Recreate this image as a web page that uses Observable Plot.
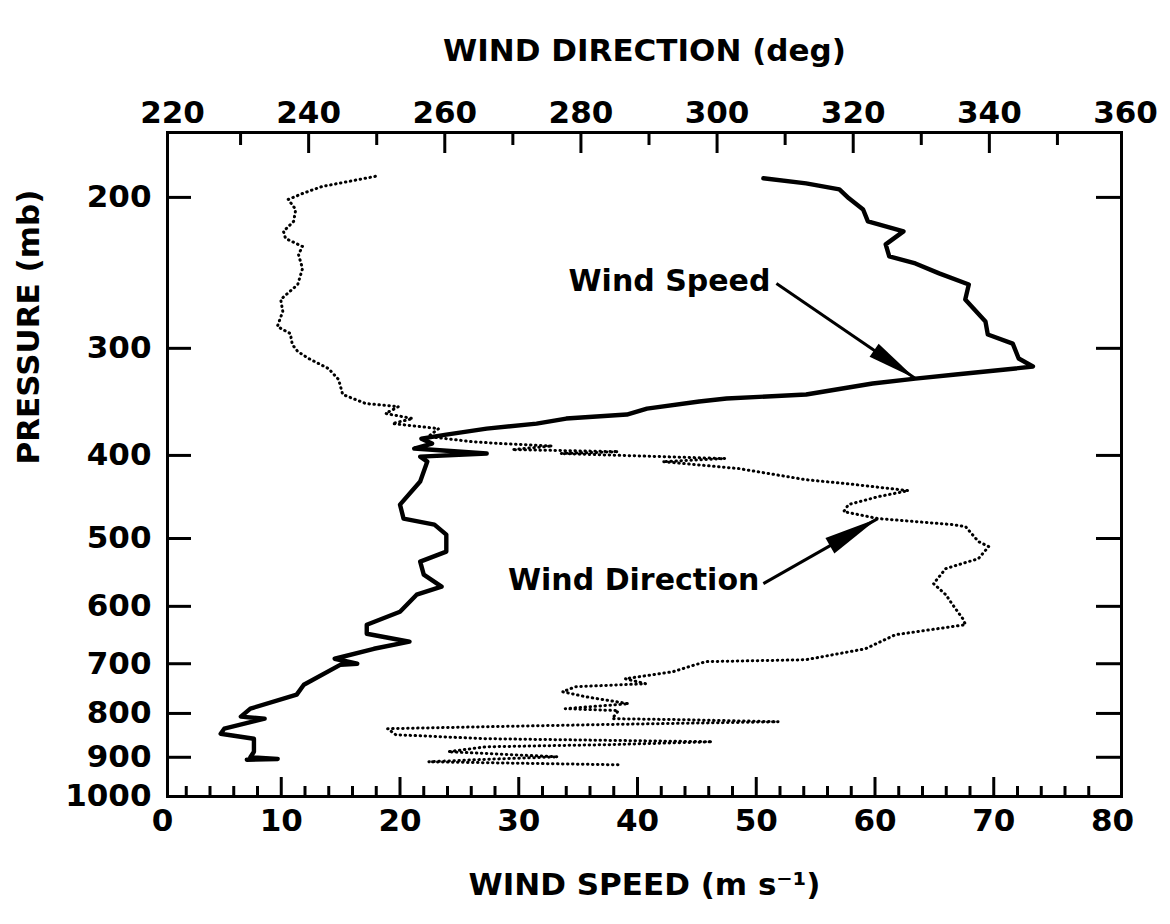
<!DOCTYPE html>
<html><head><meta charset="utf-8">
<script src="https://cdn.jsdelivr.net/npm/d3@7"></script>
<script src="https://cdn.jsdelivr.net/npm/@observablehq/plot@0.6"></script>
<style>
body{margin:0;background:#fff;}
#wrap{position:relative;width:1170px;height:924px;background:#fff;}
#wrap svg{position:absolute;left:0;top:0;}
</style></head><body><div id="wrap"></div>
<script>
// ---- data ----
const speedPressure = [190.0,192.6,195.7,200.5,206.6,213.3,219.1,226.9,234.4,238.8,245.3,252.7,263.1,279.1,289.1,296.2,308.3,315.0,317.6,321.9,325.4,329.7,339.6,343.3,346.1,352.7,358.4,362.3,367.2,372.2,378.2,382.4,387.5,392.7,398.0,401.3,406.7,429.1,456.5,474.0,481.7,494.8,517.9,532.1,551.0,569.1,581.5,608.7,630.3,645.8,659.8,672.4,690.7,700.0,701.8,740.6,760.6,789.8,807.0,811.4,833.5,844.8,856.2,886.7,900.0,904.0,906.0];
const speedValues   = [50.6,54.2,57.0,57.8,59.0,59.4,62.4,60.9,61.2,63.4,65.4,67.9,67.6,69.3,69.5,71.6,72.1,73.3,71.0,66.8,63.4,59.8,54.2,47.5,45.2,40.8,39.1,34.0,31.5,27.3,23.9,21.8,22.7,21.2,27.3,21.7,22.3,21.7,20.0,20.3,22.9,23.9,23.9,21.7,22.0,23.5,21.4,20.0,17.2,17.2,20.8,17.8,14.5,16.4,15.0,11.9,11.3,7.4,6.6,8.6,5.2,4.9,7.7,7.7,7.4,9.7,7.1];

const dirPressure = [189.0,192.6,194.2,197.9,201.1,206.6,213.3,219.1,223.3,228.2,233.1,242.1,252.7,263.1,271.7,282.9,288.3,296.9,302.6,308.3,316.7,326.2,339.6,348.0,350.8,357.4,362.3,367.2,372.2,380.2,385.4,387.5,390.0,393.8,396.0,398.0,403.4,406.7,414.4,426.9,432.6,439.7,446.8,456.5,465.2,474.0,481.7,484.3,504.2,511.0,527.8,542.1,564.5,581.5,597.3,620.2,630.3,647.5,672.4,692.6,696.1,715.2,728.8,738.6,744.6,754.7,764.9,779.4,789.8,794.0,811.4,813.6,818.0,824.6,829.1,833.5,847.1,856.2,863.3,870.0,875.0,886.7,898.9,905.0,911.0,918.4];
const dirValues   = [249.8,244.4,242.0,239.1,237.0,238.1,237.8,236.3,236.6,239.1,238.5,239.1,238.4,235.9,236.2,235.4,237.3,237.6,238.4,240.0,242.9,244.4,245.0,248.4,253.2,251.3,255.3,252.3,259.1,257.6,263.8,268.2,275.8,269.9,285.5,277.0,301.2,292.0,303.2,313.0,320.3,328.1,323.7,319.3,318.6,323.7,334.6,336.5,338.4,339.9,338.4,333.6,331.8,333.6,334.6,336.1,336.5,326.2,321.8,313.0,298.3,293.5,286.5,289.5,279.2,277.3,280.7,287.0,277.7,285.5,284.6,294.9,309.0,282.1,266.0,251.6,252.8,266.0,299.3,284.1,266.0,260.5,276.6,266.0,257.6,285.5];

const pressureTicks = [200,300,400,500,600,700,800,900];
const pressureLabels = [200,300,400,500,600,700,800,900,1000];
const speedLabels = [0,10,20,30,40,50,60,70,80];
const speedMinor = [2,4,6,8,12,14,16,18,22,24,26,28,32,34,36,38,42,44,46,48,52,54,56,58,62,64,66,68,72,74,76,78];
const speedMajor = [10,20,30,40,50,60,70];
const dirLabels = [220,240,260,280,300,320,340,360];
const dirMajor = [240,260,280,300,320,340];
const dirMinor = [230,250,270,290,310,330,350];

const speedArrow = [{s1:51.7, p1:252.0, s2:63.4, p2:325.3, label:"Wind Speed"}];
const dirArrow   = [{d1:306.8, p1:564.4, d2:323.6, p2:474.0, label:"Wind Direction"}];

// ---- layout ----
const W = 1170, H = 924, mt = 132, mb = 128, ml = 167, mr = 49;
const frameH = H - mt - mb, frameW = W - ml - mr;
const FONT = "DejaVu Sans";
const speedX = {domain:[0,80], range:[162,1112]};
const dirX = {domain:[220,360], range:[172,1125]};
const yOpt = {type:"log", domain:[1000,168], range:[H - mb, mt]};

const speedData = speedPressure.map((p,i)=>({p, s:speedValues[i]}));
const dirData = dirPressure.map((p,i)=>({p, d:dirValues[i]}));

function headSymbol(angle, len, halfW) {
  const c = Math.cos(angle), s = Math.sin(angle);
  return {draw(ctx) {
    const bx = -len*c, by = -len*s;
    ctx.moveTo(0,0);
    ctx.lineTo(bx + halfW*s, by - halfW*c);
    ctx.lineTo(bx - halfW*s, by + halfW*c);
    ctx.closePath();
  }};
}
function angleOf(xs, a1, p1, a2, p2) {
  const x = d3.scaleLinear(xs.domain, xs.range);
  const y = d3.scaleLog(yOpt.domain, yOpt.range);
  return Math.atan2(y(p2)-y(p1), x(a2)-x(a1));
}
const speedAng = angleOf(speedX, speedArrow[0].s1, speedArrow[0].p1, speedArrow[0].s2, speedArrow[0].p2);
const dirAng = angleOf(dirX, dirArrow[0].d1, dirArrow[0].p1, dirArrow[0].d2, dirArrow[0].p2);

const base = {width:W, height:H, marginTop:mt, marginBottom:mb, marginLeft:ml, marginRight:mr,
  y:{...yOpt, axis:null}, style:{fontFamily:FONT, background:"transparent", overflow:"visible"}};
const tickText = {fontSize:31, fontWeight:"bold", fill:"black"};

const speedPlot = Plot.plot({
  ...base,
  x:{...speedX, axis:null},
  marks:[
    Plot.frame({stroke:"black", strokeWidth:3}),
    Plot.ruleX(speedMinor, {x:d=>d, insetTop:frameH-10, stroke:"black", strokeWidth:3}),
    Plot.ruleX(speedMajor, {x:d=>d, insetTop:frameH-19, stroke:"black", strokeWidth:3}),
    Plot.ruleY(pressureTicks, {y:d=>d, insetRight:frameW-24, stroke:"black", strokeWidth:3}),
    Plot.ruleY(pressureTicks, {y:d=>d, insetLeft:frameW-25, stroke:"black", strokeWidth:3}),
    Plot.text(speedLabels, {x:d=>d, text:d=>String(d), frameAnchor:"bottom", dy:34, ...tickText}),
    Plot.text(pressureLabels, {y:d=>d, text:d=>String(d), frameAnchor:"left", textAnchor:"end", dx:-16, ...tickText}),
    Plot.text(["WIND SPEED (m s\u207B\u00B9)"], {frameAnchor:"bottom", dy:98, fontSize:31, fontWeight:"bold", fill:"black"}),
    Plot.text(["PRESSURE (mb)"], {frameAnchor:"left", dx:-138, rotate:-90, fontSize:31, fontWeight:"bold", fill:"black"}),
    Plot.line(speedData, {x:"s", y:"p", stroke:"black", strokeWidth:4.4, strokeLinejoin:"round", strokeLinecap:"round"}),
    Plot.link(speedArrow, {x1:"s1", y1:"p1", x2:"s2", y2:"p2", stroke:"black", strokeWidth:3}),
    Plot.dot(speedArrow, {x:"s2", y:"p2", symbol:headSymbol(speedAng, 50, 8), fill:"black", stroke:"none"}),
    Plot.text(speedArrow, {x:"s1", y:"p1", text:"label", textAnchor:"end", dx:-6, dy:-2, fontSize:30, fontWeight:"bold", fill:"black"})
  ]
});

const dirPlot = Plot.plot({
  ...base,
  x:{...dirX, axis:null},
  marks:[
    Plot.ruleX(dirMinor, {x:d=>d, insetBottom:frameH-13, stroke:"black", strokeWidth:3}),
    Plot.ruleX(dirMajor, {x:d=>d, insetBottom:frameH-21, stroke:"black", strokeWidth:3}),
    Plot.text(dirLabels, {x:d=>d, text:d=>String(d), frameAnchor:"top", dy:-32, ...tickText}),
    Plot.text(["WIND DIRECTION (deg)"], {frameAnchor:"top", dy:-94, fontSize:31, fontWeight:"bold", fill:"black"}),
    Plot.line(dirData, {x:"d", y:"p", stroke:"black", strokeWidth:3, strokeDasharray:"0.5,4.5", strokeLinecap:"round"}),
    Plot.link(dirArrow, {x1:"d1", y1:"p1", x2:"d2", y2:"p2", stroke:"black", strokeWidth:3}),
    Plot.dot(dirArrow, {x:"d2", y:"p2", symbol:headSymbol(dirAng, 55, 9), fill:"black", stroke:"none"}),
    Plot.text(dirArrow, {x:"d1", y:"p1", text:"label", textAnchor:"end", dx:-4, dy:-3, fontSize:30, fontWeight:"bold", fill:"black"})
  ]
});

const wrap = document.getElementById("wrap");
wrap.appendChild(speedPlot);
wrap.appendChild(dirPlot);
</script>
</body></html>
